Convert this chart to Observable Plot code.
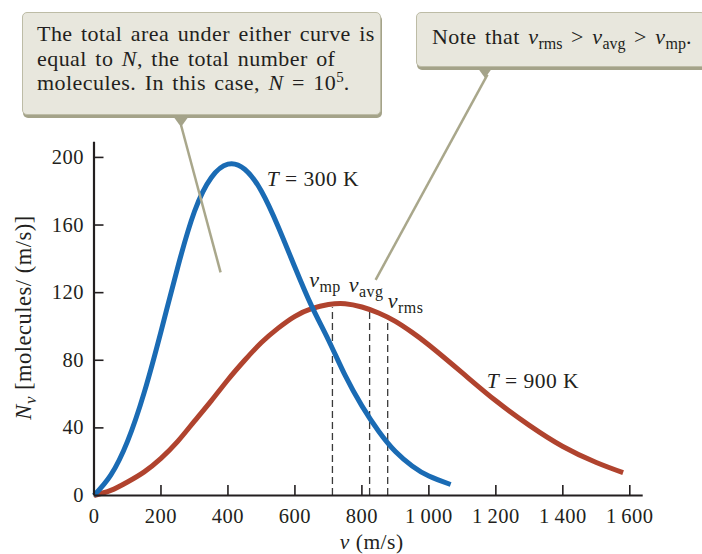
<!DOCTYPE html>
<html><head><meta charset="utf-8">
<script src="https://cdn.jsdelivr.net/npm/d3@7"></script>
<script src="https://cdn.jsdelivr.net/npm/@observablehq/plot@0.6"></script>
<style>
html,body{margin:0;padding:0;background:#fff;overflow:hidden;}
#wrap{position:relative;width:702px;height:554px;font-family:"Liberation Serif",serif;color:#231f20;}
#wrap svg text{letter-spacing:0.5px;}
.box{position:absolute;background:#e8e7dd;border:1px solid #bdbca6;border-radius:5px;box-shadow:1px 3px 0 #a4a389;box-sizing:border-box;}
.ptr{position:absolute;width:0;height:0;border-left:8px solid transparent;border-right:8px solid transparent;border-top:11px solid #a4a389;}
.txt{position:absolute;font-size:22px;line-height:24.5px;letter-spacing:0.45px;word-spacing:2.5px;white-space:nowrap;}
.txt sub{font-size:16px;vertical-align:baseline;position:relative;top:5px;letter-spacing:0;}
.txt sup{font-size:15px;vertical-align:baseline;position:relative;top:-8px;letter-spacing:0;}
</style></head><body><div id="wrap"></div>
<script>
// ---- data ----
const xTicks = [0, 200, 400, 600, 800, 1000, 1200, 1400, 1600];
const yTicks = [0, 40, 80, 120, 160, 200];

const speeds300 = [0,50,100,150,200,250,300,350,400,450,500,550,600,650,700,750,800,850,900,950,1000,1065];
const counts300 = [0,12,32,61,97,135,168,188,196,193,180,159,135,112,92,71,53,38,26,17.5,11.5,6.5];

const speeds900 = [0,50,100,150,200,250,300,350,400,450,500,550,600,650,700,750,800,850,900,950,1000,1100,1200,1300,1400,1500,1580];
const counts900 = [0,3,8,14,22,32,44,56,68.5,80,90.5,99,106,110.5,113,113.5,111.5,108,103,96.5,89,72.5,56,41.5,29,19.5,13.5];

const markerNames = ["mp", "avg", "rms"];
const markerSpeeds = [712, 823, 877];
const markerTops = [111, 108.5, 105.5];

// ---- build tables ----
const curve300 = speeds300.map((v, i) => ({v, n: counts300[i]}));
const curve900 = speeds900.map((v, i) => ({v, n: counts900[i]}));
const markers = markerNames.map((name, i) => ({name, v: markerSpeeds[i], n: markerTops[i]}));

// annotation layout (data coordinates)
const leaders = [
  {x1: 260, y1: 219, x2: 378, y2: 132},
  {x1: 1175, y1: 249, x2: 841, y2: 127.6}
];

const W = 702, H = 554;
const mL = 93.5, mR = 59.3, mT = 141.7, mB = 59;
const yMax = 209, xMax = 1640;
const pxPerY = (H - mT - mB) / yMax;
const pxPerX = (W - mL - mR) / xMax;
const tickLen = 10;
const ink = "#231f20";
const font = "Liberation Serif";

const fmtX = d => d >= 1000 ? String(Math.floor(d / 1000)) + "\u2009" + String(d % 1000).padStart(3, "0") : String(d);

const chart = Plot.plot({
  width: W, height: H,
  marginLeft: mL, marginRight: mR, marginTop: mT, marginBottom: mB,
  x: {domain: [0, xMax], axis: null},
  y: {domain: [0, yMax], axis: null},
  style: {background: "transparent", fontFamily: font, fontSize: "20px", color: ink, overflow: "visible"},
  marks: [
    Plot.axisX({ticks: xTicks, tickSize: 0, tickPadding: 13, tickFormat: fmtX, label: null, fontSize: 20.5, fontFamily: font, fill: ink}),
    Plot.axisY({ticks: yTicks, tickSize: 0, tickPadding: 10, label: null, fontSize: 20.5, fontFamily: font, fill: ink}),
    Plot.ruleX(xTicks.filter(d => d > 0), {x: d => d, y1: 0, y2: tickLen / pxPerY, stroke: ink, strokeWidth: 1.6}),
    Plot.ruleY(yTicks.filter(d => d > 0), {y: d => d, x1: 0, x2: tickLen / pxPerX, stroke: ink, strokeWidth: 1.6}),
    Plot.ruleX(markers, {x: "v", y1: 0, y2: "n", stroke: "#3a3a3a", strokeWidth: 1.3, strokeDasharray: "7,4"}),
    Plot.line(curve900, {x: "v", y: "n", stroke: "#b0432e", strokeWidth: 5, curve: "natural", strokeLinecap: "butt"}),
    Plot.line(curve300, {x: "v", y: "n", stroke: "#1a6bb4", strokeWidth: 5, curve: "natural", strokeLinecap: "butt"}),
    Plot.link(leaders, {x1: "x1", y1: "y1", x2: "x2", y2: "y2", stroke: "#a9a78b", strokeWidth: 2.5}),
    Plot.ruleY([0], {stroke: ink, strokeWidth: 2.2}),
    Plot.ruleX([0], {stroke: ink, strokeWidth: 2.2})
  ]
});

const sx = v => chart.scale("x").apply(v);
const sy = n => chart.scale("y").apply(n);

function addRich(x, y, parts, {size = 21, anchor = "start", rotate = 0} = {}) {
  const t = d3.select(chart).append("text")
    .attr("font-size", size).attr("fill", ink).attr("text-anchor", anchor)
    .attr("font-family", font)
    .attr("transform", `translate(${x},${y})` + (rotate ? ` rotate(${rotate})` : ""));
  let shift = 0;
  for (const p of parts) {
    const s = t.append("tspan").text(p.t);
    if (p.i) s.attr("font-style", "italic");
    const want = p.sub ? (p.shift ?? 5) : 0;
    if (want !== shift) { s.attr("dy", want - shift); shift = want; }
    if (p.sub) s.attr("font-size", p.size ?? 15);
  }
  return t;
}

// curve labels
addRich(sx(517), sy(182.8), [{t: "T", i: true}, {t: " = 300 K"}], {size: 21.5});
addRich(sx(1174), sy(63.1), [{t: "T", i: true}, {t: " = 900 K"}], {size: 21.5});

// marker labels (v-subscript)
const markerLabelPos = {mp: [644, 123.2], avg: [762, 120.3], rms: [878.5, 110.6]};
for (const m of markers) {
  const [lv, ln] = markerLabelPos[m.name];
  addRich(sx(lv), sy(ln), [{t: "v", i: true}, {t: m.name, sub: true, shift: 5, size: 16}], {size: 22});
}

// axis titles
addRich(371.7, 549, [{t: "v", i: true}, {t: " (m/s)"}], {anchor: "middle", size: 21.5});
addRich(31, 317.5, [{t: "N", i: true}, {t: "v", i: true, sub: true, shift: 5, size: 17}, {t: " [molecules/ (m/s)]"}], {anchor: "middle", rotate: -90, size: 22.5});

const wrap = document.getElementById("wrap");
wrap.appendChild(chart);
chart.style.position = "absolute";
chart.style.left = "0"; chart.style.top = "0";

// callout boxes
function addDiv(cls, style, html) {
  const d = document.createElement("div");
  d.className = cls;
  Object.assign(d.style, style);
  if (html) d.innerHTML = html;
  wrap.appendChild(d);
  return d;
}
addDiv("box", {left: "22px", top: "12px", width: "359px", height: "103px"});
addDiv("ptr", {left: "173px", top: "116px"});
addDiv("txt", {left: "37px", top: "22px"},
  "The total area under either curve is<br>equal to <i>N</i>, the total number of<br>molecules. In this case, <i>N</i> = 10<sup>5</sup>.");
addDiv("box", {left: "416px", top: "12px", width: "290px", height: "55px"});
addDiv("ptr", {left: "477px", top: "67px"});
addDiv("txt", {left: "432px", top: "25px"},
  "Note that <i>v</i><sub>rms</sub> &gt; <i>v</i><sub>avg</sub> &gt; <i>v</i><sub>mp</sub>.");
</script>
</body></html>
